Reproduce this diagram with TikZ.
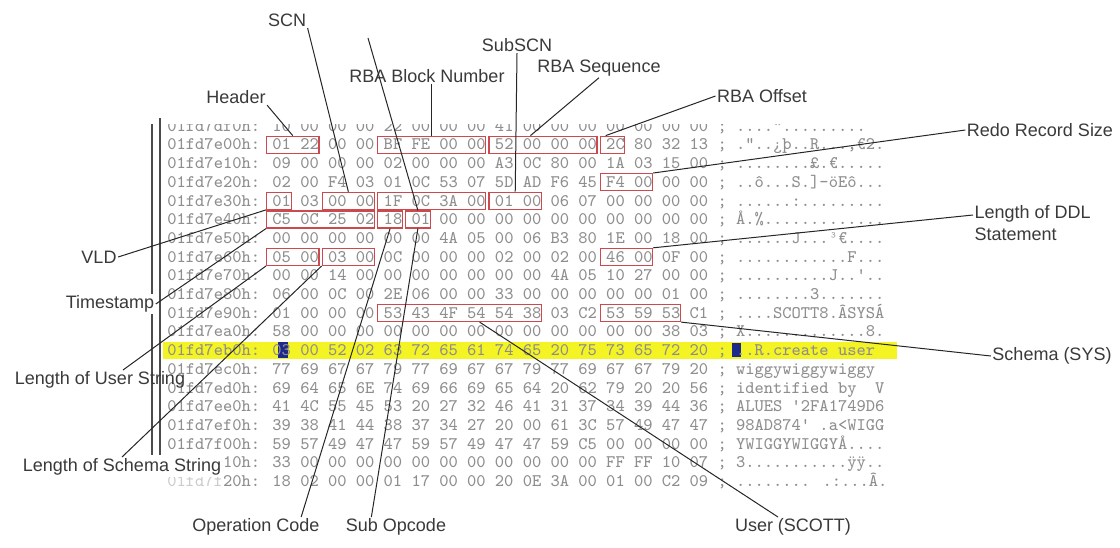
\documentclass[tikz,border=0pt]{standalone}
\usepackage{fontspec}
\setmainfont{Liberation Sans}
\usetikzlibrary{positioning, calc}
\definecolor{boxred}{HTML}{CC4A4E}
\definecolor{hexgray}{HTML}{8E8E8E}
\definecolor{tagtext}{HTML}{3A3A3A}
\definecolor{markyellow}{HTML}{F4F424}
\definecolor{cursorblue}{HTML}{1E2A8A}

% one red field box: name, row, first byte, last byte
\newcommand{\field}[4]{%
  \node[field, minimum width={((3*(#4-#3)+2)*9.27+6)*0.5pt}]
    (#1) at ({167+(11+3*#3)*9.27-3}, {126+18.7*#2}) {};}
% one line of the dump: row, text
\newcommand{\dumpline}[2]{%
  \node[hexrow] (row#1) at (167, {126+18.7*#1+5.2}) {#2};}

\begin{document}
\begin{tikzpicture}[
        x=0.5pt, y=-0.5pt,
        hexrow/.style={anchor=base west, inner sep=0pt, text=hexgray,
                       font=\fontsize{8.83}{10}\selectfont\ttfamily},
        field/.style={draw=boxred, line width=0.6pt, inner sep=0pt,
                      minimum height=8.5pt, anchor=west},
        tag/.style={font=\fontsize{9}{10.8}\selectfont, text=tagtext,
                    fill=white, inner sep=0.6pt},
        lead/.style={black!85, line width=0.5pt}
      ]
      \useasboundingbox (0,0) rectangle (1120,547);
      \fill[white] (0,0) rectangle (1120,547);
      % highlighted row and cursor
      \fill[markyellow] (163,342) rectangle (897,359);
      \fill[cursorblue] (278,342) rectangle (288,358);
      \fill[cursorblue] (732,343) rectangle (741,357);
      % the dump
      \begin{scope}
        \clip (0,124) rectangle (1120,547);
        \dumpline{0}{01fd7df0h: 10 00 00 00 22 00 00 00 41 00 00 00 00 00 00 00 ; ....".........}
        \dumpline{1}{01fd7e00h: 01 22 00 00 BF FE 00 00 52 00 00 00 2C 80 32 13 ; ."..¿þ..R...,€2.}
        \dumpline{2}{01fd7e10h: 09 00 00 00 02 00 00 00 A3 0C 80 00 1A 03 15 00 ; ........£.€.....}
        \dumpline{3}{01fd7e20h: 02 00 F4 03 01 0C 53 07 5D AD F6 45 F4 00 00 00 ; ..ô...S.]-öEô...}
        \dumpline{4}{01fd7e30h: 01 03 00 00 1F 0C 3A 00 01 00 06 07 00 00 00 00 ; ......:.........}
        \dumpline{5}{01fd7e40h: C5 0C 25 02 18 01 00 00 00 00 00 00 00 00 00 00 ; Å.\%.............}
        \dumpline{6}{01fd7e50h: 00 00 00 00 00 00 4A 05 00 06 B3 80 1E 00 18 00 ; ......J...³€....}
        \dumpline{7}{01fd7e60h: 05 00 03 00 0C 00 00 00 02 00 02 00 46 00 0F 00 ; ............F...}
        \dumpline{8}{01fd7e70h: 00 00 14 00 00 00 00 00 00 00 4A 05 10 27 00 00 ; ..........J..'..}
        \dumpline{9}{01fd7e80h: 06 00 0C 00 2E 06 00 00 33 00 00 00 00 00 01 00 ; ........3.......}
        \dumpline{10}{01fd7e90h: 01 00 00 00 53 43 4F 54 54 38 03 C2 53 59 53 C1 ; ....SCOTT8.ÂSYSÁ}
        \dumpline{11}{01fd7ea0h: 58 00 00 00 00 00 00 00 00 00 00 00 00 00 38 03 ; X.............8.}
        \dumpline{12}{01fd7eb0h: 03 00 52 02 63 72 65 61 74 65 20 75 73 65 72 20 ; ..R.create user}
        \dumpline{13}{01fd7ec0h: 77 69 67 67 79 77 69 67 67 79 77 69 67 67 79 20 ; wiggywiggywiggy}
        \dumpline{14}{01fd7ed0h: 69 64 65 6E 74 69 66 69 65 64 20 62 79 20 20 56 ; identified by~~V}
        \dumpline{15}{01fd7ee0h: 41 4C 55 45 53 20 27 32 46 41 31 37 34 39 44 36 ; ALUES '2FA1749D6}
        \dumpline{16}{01fd7ef0h: 39 38 41 44 38 37 34 27 20 00 61 3C 57 49 47 47 ; 98AD874' .a<WIGG}
        \dumpline{17}{01fd7f00h: 59 57 49 47 47 59 57 49 47 47 59 C5 00 00 00 00 ; YWIGGYWIGGYÅ....}
        \dumpline{18}{\phantom{01fd7f}10h: 33 00 00 00 00 00 00 00 00 00 00 00 FF FF 10 07 ; 3...........ÿÿ..}
        \dumpline{19}{\textcolor{hexgray!45}{01fd7f}20h: 18 02 00 00 01 17 00 00 20 0E 3A 00 01 00 C2 09 ; ........ .:...Â.}
      \end{scope}
      % split bars of the editor
      \draw[black!70, line width=0.9pt] (152,124) -- (152,455);
      \draw[black!70, line width=0.9pt] (160,118) -- (160,455);
      % fields
      \field{hdr}{1}{0}{1}
      \field{rbablk}{1}{4}{7}
      \field{rbaseqbox}{1}{8}{11}
      \field{rbaoffbox}{1}{12}{12}
      \field{redobox}{3}{12}{13}
      \field{vldbox}{4}{0}{0}
      \field{scnwrap}{4}{2}{3}
      \field{scnbase}{4}{4}{7}
      \field{subscnbox}{4}{8}{9}
      \field{tsbox}{5}{0}{3}
      \field{opbox}{5}{4}{4}
      \field{subopbox}{5}{5}{5}
      \field{userlenbox}{7}{0}{1}
      \field{schemalenbox}{7}{2}{3}
      \field{ddlbox}{7}{12}{13}
      \field{userbox}{10}{4}{9}
      \field{schemabox}{10}{12}{14}
      % labels
      \node[tag] (scn) at (287,20) {SCN};
      \node[tag] (subscn) at (517,45) {SubSCN};
      \node[tag] (rbablock) at (427,76) {RBA Block Number};
      \node[tag] (rbaseq) at (599,68) {RBA Sequence};
      \node[tag] (header) at (236,97) {Header};
      \node[tag] (rbaoffset) at (762,96) {RBA Offset};
      \node[tag] (redosize) at (1040,130) {Redo Record Size};
      \node[tag, align=left, anchor=north west] (ddllen) at (973,204)
        {Length of DDL\\Statement};
      \node[tag] (vld) at (99,257) {VLD};
      \node[tag] (timestamp) at (110,304) {Timestamp};
      \node[tag] (schema) at (1052,356) {Schema (SYS)};
      \node[tag, fill=none] (userlen) at (100,380) {Length of User String};
      \node[tag] (schemalen) at (122,467) {Length of Schema String};
      \node[tag] (opcode) at (256,527) {Operation Code};
      \node[tag] (subop) at (396,527) {Sub Opcode};
      \node[tag] (user) at (793,527) {User (SCOTT)};
      \coordinate (scntail) at (368,38);
      % leaders
      \draw[lead] (header.south east) -- (hdr.north);
      \draw[lead] (scn.south east) -- (scnwrap.north);
      \draw[lead] (scntail) -- (subopbox.north);
      \draw[lead] (rbablock.south -| rbablk.north) -- (rbablk.north);
      \draw[lead] (subscn.south) -- (subscnbox.north);
      \draw[lead] (rbaseq.south) -- ($(rbaseqbox.north west)+(42,0)$);
      \draw[lead] (rbaoffset.west) -- ($(rbaoffbox.north west)+(6,0)$);
      \draw[lead] (redosize.west) -- (redobox.north east);
      \draw[lead] ($(ddllen.north west)+(0,11)$) -- (ddlbox.north east);
      \draw[lead] (schema.west) -- (schemabox.south east);
      \draw[lead] (vld.east) -- (vldbox.south west);
      \draw[lead] (timestamp.east) -- (tsbox.south west);
      \draw[lead] ($(userlen.north)+(23,0)$) -- (userlenbox.south west);
      \draw[lead] (schemalen.north) -- (schemalenbox.south west);
      \draw[lead] ($(opcode.north east)+(-20,0)$) -- (opbox.south);
      \draw[lead] ($(subop.north west)+(27,0)$) -- (subopbox.south);
      \draw[lead] ($(user.north)+(-15,0)$) -- ($(userbox.south)+(20,0)$);
    \end{tikzpicture}
\end{document}
